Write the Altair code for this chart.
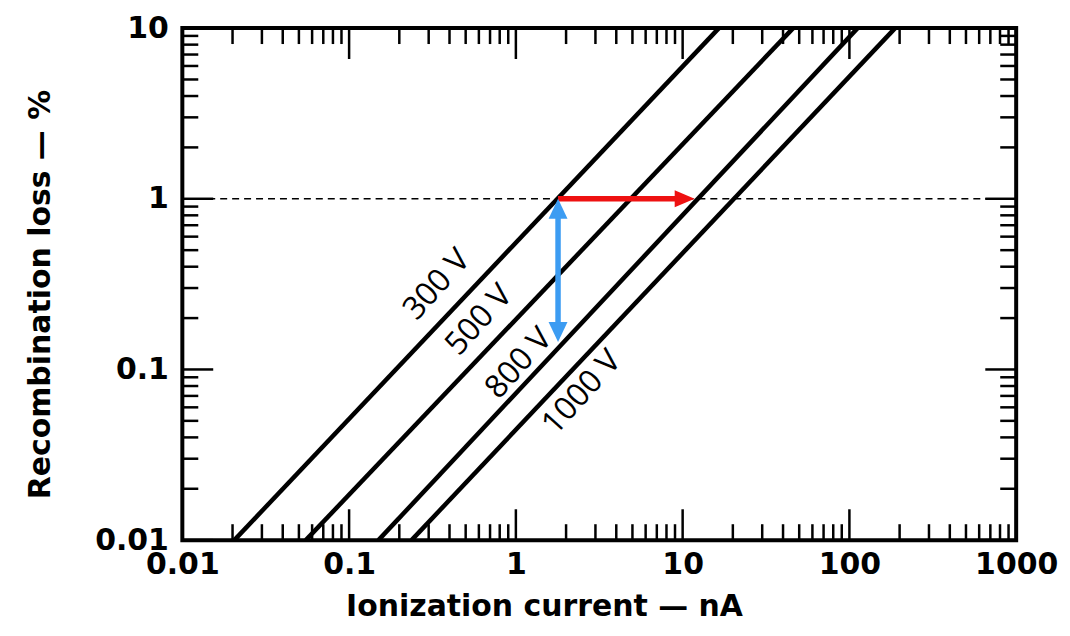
import altair as alt
import pandas as pd

# ---- data ----
voltages = ["300 V", "500 V", "800 V", "1000 V"]
x_at_bottom = [0.0205, 0.055, 0.150, 0.237]   # current (nA) where loss = 0.01 %
x_at_top = [16.5, 46.0, 112.0, 188.0]          # current (nA) where loss = 10 %
y_bottom = 0.01
y_top = 10.0

label_x = [0.335, 0.60, 1.04, 2.48]
label_y = [0.315, 0.195, 0.109, 0.0735]

x_major = [0.01, 0.1, 1, 10, 100, 1000]
y_major = [0.01, 0.1, 1, 10]
minor_mult = [2, 3, 4, 5, 6, 7, 8, 9]

ref_level = 1.0
arrow_x_start = 1.79
arrow_x_end = 11.8
arrow_y_end = 0.145

# ---- frames ----
W, H = 837, 514
RED = "#ee1111"
BLUE = "#3c9cf2"

curves = pd.DataFrame({
    "v": [v for v in voltages for _ in range(2)],
    "x": [xx for pair in zip(x_at_bottom, x_at_top) for xx in pair],
    "y": [y_bottom, y_top] * len(voltages),
})
labels = pd.DataFrame({"v": voltages, "x": label_x, "y": label_y})

x_minor = [m * d for d in x_major[:-1] for m in minor_mult]
y_minor = [m * d for d in y_major[:-1] for m in minor_mult]
xmaj_df = pd.DataFrame({"x": x_major})
xmin_df = pd.DataFrame({"x": x_minor})
ymaj_df = pd.DataFrame({"y": y_major})
ymin_df = pd.DataFrame({"y": y_minor})

xscale = alt.Scale(type="log", domain=[0.01, 1000], nice=False)
yscale = alt.Scale(type="log", domain=[0.01, 10], nice=False)

LABEL_FONT = "DejaVu Sans"
xaxis = alt.Axis(values=x_major, format="~g", ticks=False, tickSize=0, domain=False, grid=False,
                 labelFont=LABEL_FONT, labelFontSize=30, labelFontWeight="bold",
                 labelColor="black", labelPadding=9, labelFlush=False, labelOverlap=False,
                 title="Ionization current — nA", titleFont="DejaVu Sans", titleFontSize=30,
                 titleFontWeight="bold", titleColor="black", titleX=363, titleY=76,
                 titleAlign="center", titleBaseline="alphabetic")
yaxis = alt.Axis(values=y_major, format="~g", ticks=False, tickSize=0, domain=False, grid=False,
                 labelFont=LABEL_FONT, labelFontSize=30, labelFontWeight="bold",
                 labelColor="black", labelPadding=14, labelFlush=False, labelOverlap=False,
                 title="Recombination loss — %", titleFont="DejaVu Sans", titleFontSize=30,
                 titleFontWeight="bold", titleColor="black", titleX=-133, titleY=267,
                 titleAngle=270, titleAlign="center", titleBaseline="alphabetic")

X = alt.X("x:Q", scale=xscale, axis=xaxis)
Y = alt.Y("y:Q", scale=yscale, axis=yaxis)

lines = alt.Chart(curves).mark_line(color="black", strokeWidth=4.5).encode(x=X, y=Y, detail="v:N")

text = alt.Chart(labels).mark_text(angle=312, font="Open Sans", fontSize=32, color="black",
                                   align="center", baseline="middle").encode(x=X, y=Y, text="v:N")

dashed = alt.Chart(pd.DataFrame({"y": [ref_level]})).mark_rule(
    strokeDash=[7, 5], strokeWidth=1.5, color="black").encode(y=Y)

red_shaft = alt.Chart(pd.DataFrame({"x": [arrow_x_start], "x2": [arrow_x_end], "y": [ref_level]})).mark_rule(
    color=RED, strokeWidth=5.5, x2Offset=-16).encode(x=X, x2="x2:Q", y=Y)
red_head = alt.Chart(pd.DataFrame({"x": [arrow_x_end], "y": [ref_level]})).mark_point(
    shape="M0,0 L-2,-0.85 L-2,0.85 Z", size=400, filled=True, color=RED, opacity=1, strokeWidth=0
).encode(x=X, y=Y)

blue_shaft = alt.Chart(pd.DataFrame({"x": [arrow_x_start], "y": [ref_level], "y2": [arrow_y_end]})).mark_rule(
    color=BLUE, strokeWidth=5.5, yOffset=16, y2Offset=-16).encode(x=X, y=Y, y2="y2:Q")
blue_up = alt.Chart(pd.DataFrame({"x": [arrow_x_start], "y": [ref_level]})).mark_point(
    shape="M0,0 L-0.95,2 L0.95,2 Z", size=400, filled=True, color=BLUE, opacity=1, strokeWidth=0
).encode(x=X, y=Y)
blue_down = alt.Chart(pd.DataFrame({"x": [arrow_x_start], "y": [arrow_y_end]})).mark_point(
    shape="M0,0 L-0.95,-2 L0.95,-2 Z", size=400, filled=True, color=BLUE, opacity=1, strokeWidth=0
).encode(x=X, y=Y)

TW = 2.5
MAJ, MIN = 31, 16


def xticks(df, length):
    bottom = alt.Chart(df).mark_rule(color="black", strokeWidth=TW).encode(
        x=X, y=alt.value(H), y2=alt.value(H - length))
    top = alt.Chart(df).mark_rule(color="black", strokeWidth=TW).encode(
        x=X, y=alt.value(0), y2=alt.value(length))
    return [bottom, top]


def yticks(df, length):
    left = alt.Chart(df).mark_rule(color="black", strokeWidth=TW).encode(
        y=Y, x=alt.value(0), x2=alt.value(length))
    right = alt.Chart(df).mark_rule(color="black", strokeWidth=TW).encode(
        y=Y, x=alt.value(W), x2=alt.value(W - length))
    return [left, right]


tick_layers = xticks(xmaj_df, MAJ) + xticks(xmin_df, MIN) + yticks(ymaj_df, MAJ) + yticks(ymin_df, MIN)

chart = alt.layer(
    lines, dashed, red_shaft, red_head, blue_shaft, blue_up, blue_down, text, *tick_layers
).properties(
    width=W, height=H,
    background="white",
    autosize=alt.AutoSizeParams(type="none"),
    padding={"left": 175, "top": 19, "right": 46, "bottom": 85},
).configure_view(stroke="black", strokeWidth=4)

chart.save("out.html", embed_options={"renderer": "svg", "actions": False})
